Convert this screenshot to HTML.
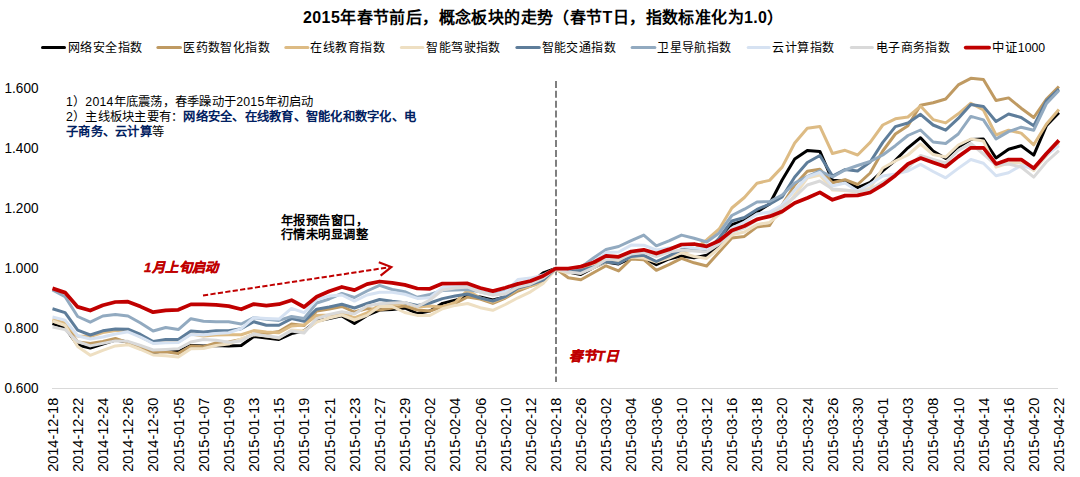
<!DOCTYPE html>
<html lang="zh-CN"><head><meta charset="utf-8">
<style>
html,body{margin:0;padding:0;background:#fff;}
body{width:1080px;height:477px;overflow:hidden;position:relative;font-family:"Liberation Sans", sans-serif;}
.t{position:absolute;white-space:nowrap;line-height:1;}
</style></head><body>
<svg width="1080" height="477" viewBox="0 0 1080 477" style="position:absolute;left:0;top:0" font-family='"Liberation Sans", sans-serif'>

<line x1="52" y1="388.5" x2="1058" y2="388.5" stroke="#D9D9D9" stroke-width="1"/>
<line x1="556" y1="81" x2="556" y2="382" stroke="#7F7F7F" stroke-width="2" stroke-dasharray="7,2.85"/>
<polyline fill="none" stroke="#000000" stroke-width="3" stroke-linejoin="round" stroke-linecap="butt" points="52.50,323.5 65.08,327.5 77.66,345.0 90.24,348.0 102.82,344.0 115.40,340.0 127.98,342.0 140.56,347.5 153.14,352.9 165.72,350.2 178.30,351.5 190.88,345.4 203.46,346.0 216.04,345.5 228.62,346.0 241.20,345.5 253.78,336.5 266.36,338.0 278.94,339.5 291.52,333.6 304.10,331.0 316.68,321.0 329.26,318.6 341.84,315.9 354.42,323.5 367.00,315.4 379.58,310.0 392.16,309.5 404.74,307.9 417.32,313.5 429.90,311.0 442.48,303.4 455.06,300.3 467.64,295.9 480.22,297.0 492.80,300.0 505.38,297.0 517.96,290.0 530.54,283.0 543.12,273.0 555.70,268.5 568.28,272.0 580.86,274.5 593.44,267.7 606.02,262.0 618.60,264.0 631.18,258.0 643.76,258.0 656.34,264.7 668.92,259.0 681.50,255.9 694.08,257.8 706.66,255.3 719.24,245.0 731.82,224.6 744.40,220.5 756.98,212.0 769.56,204.0 782.14,180.0 794.72,159.0 807.30,150.5 819.88,151.4 832.46,180.3 845.04,181.3 857.62,187.6 870.20,182.4 882.78,170.8 895.36,160.3 907.94,147.8 920.52,137.7 933.10,151.0 945.68,158.5 958.26,147.0 970.84,139.5 983.42,139.0 996.00,158.0 1008.58,149.2 1021.16,145.7 1033.74,155.1 1046.32,125.8 1058.90,112.6"/>
<polyline fill="none" stroke="#BF9A62" stroke-width="3" stroke-linejoin="round" stroke-linecap="butt" points="52.50,321.0 65.08,325.0 77.66,342.0 90.24,343.4 102.82,341.5 115.40,338.4 127.98,342.7 140.56,348.1 153.14,352.3 165.72,351.7 178.30,353.4 190.88,346.1 203.46,346.8 216.04,343.0 228.62,342.0 241.20,339.5 253.78,334.0 266.36,333.5 278.94,331.5 291.52,324.0 304.10,325.4 316.68,311.0 329.26,309.0 341.84,306.5 354.42,312.0 367.00,308.5 379.58,310.0 392.16,308.0 404.74,306.0 417.32,310.0 429.90,311.0 442.48,306.5 455.06,303.5 467.64,297.0 480.22,299.0 492.80,303.4 505.38,298.0 517.96,291.0 530.54,286.0 543.12,281.0 555.70,268.5 568.28,277.8 580.86,279.7 593.44,272.8 606.02,265.8 618.60,270.9 631.18,259.0 643.76,259.7 656.34,270.3 668.92,264.7 681.50,258.4 694.08,262.8 706.66,266.0 719.24,252.0 731.82,237.9 744.40,236.4 756.98,226.9 769.56,225.4 782.14,205.0 794.72,185.0 807.30,171.3 819.88,169.2 832.46,182.8 845.04,179.7 857.62,184.5 870.20,173.0 882.78,151.0 895.36,134.0 907.94,125.7 920.52,105.3 933.10,102.8 945.68,99.0 958.26,84.9 970.84,78.3 983.42,79.6 996.00,100.5 1008.58,97.9 1021.16,108.2 1033.74,117.5 1046.32,99.4 1058.90,86.5"/>
<polyline fill="none" stroke="#DDBB84" stroke-width="3" stroke-linejoin="round" stroke-linecap="butt" points="52.50,319.5 65.08,323.3 77.66,336.0 90.24,336.5 102.82,332.5 115.40,330.5 127.98,330.2 140.56,337.0 153.14,343.0 165.72,342.0 178.30,342.0 190.88,334.0 203.46,336.0 216.04,335.0 228.62,334.7 241.20,334.7 253.78,330.6 266.36,332.0 278.94,332.7 291.52,326.0 304.10,325.0 316.68,315.5 329.26,315.0 341.84,313.0 354.42,318.0 367.00,313.0 379.58,305.0 392.16,305.0 404.74,303.0 417.32,307.0 429.90,306.0 442.48,307.0 455.06,302.5 467.64,290.4 480.22,298.0 492.80,302.0 505.38,297.0 517.96,289.0 530.54,286.3 543.12,282.2 555.70,268.5 568.28,271.0 580.86,270.0 593.44,263.0 606.02,260.8 618.60,262.7 631.18,256.0 643.76,256.0 656.34,262.0 668.92,257.0 681.50,252.0 694.08,250.0 706.66,240.0 719.24,229.0 731.82,208.0 744.40,197.5 756.98,183.2 769.56,180.4 782.14,167.1 794.72,143.0 807.30,128.3 819.88,126.4 832.46,153.5 845.04,150.3 857.62,155.0 870.20,142.4 882.78,125.0 895.36,118.8 907.94,117.0 920.52,106.1 933.10,119.6 945.68,122.9 958.26,113.8 970.84,103.2 983.42,110.0 996.00,135.0 1008.58,130.2 1021.16,133.1 1033.74,144.8 1046.32,124.3 1058.90,109.6"/>
<polyline fill="none" stroke="#EEDFC2" stroke-width="3" stroke-linejoin="round" stroke-linecap="butt" points="52.50,321.0 65.08,325.5 77.66,346.5 90.24,355.3 102.82,350.3 115.40,345.9 127.98,344.7 140.56,349.5 153.14,355.0 165.72,355.7 178.30,357.0 190.88,348.8 203.46,348.5 216.04,345.5 228.62,344.0 241.20,338.8 253.78,334.7 266.36,336.0 278.94,338.0 291.52,330.0 304.10,331.0 316.68,322.0 329.26,318.0 341.84,315.0 354.42,320.0 367.00,315.4 379.58,306.5 392.16,306.5 404.74,312.5 417.32,315.4 429.90,315.5 442.48,308.8 455.06,305.4 467.64,303.5 480.22,307.7 492.80,310.3 505.38,304.5 517.96,297.8 530.54,291.8 543.12,283.5 555.70,269.5 568.28,273.0 580.86,272.0 593.44,268.0 606.02,262.0 618.60,262.0 631.18,257.0 643.76,258.0 656.34,262.0 668.92,258.0 681.50,252.7 694.08,256.5 706.66,258.4 719.24,248.0 731.82,234.9 744.40,232.0 756.98,224.6 769.56,222.4 782.14,212.0 794.72,195.0 807.30,178.0 819.88,175.0 832.46,190.0 845.04,190.5 857.62,192.0 870.20,188.0 882.78,168.0 895.36,161.0 907.94,155.0 920.52,144.0 933.10,154.5 945.68,157.0 958.26,145.0 970.84,139.0 983.42,141.0 996.00,167.0 1008.58,163.0 1021.16,162.5 1033.74,170.5 1046.32,156.0 1058.90,143.0"/>
<polyline fill="none" stroke="#5E7D9A" stroke-width="3" stroke-linejoin="round" stroke-linecap="butt" points="52.50,308.8 65.08,312.6 77.66,330.2 90.24,335.0 102.82,330.8 115.40,328.9 127.98,329.2 140.56,334.5 153.14,341.5 165.72,339.6 178.30,339.6 190.88,331.1 203.46,332.0 216.04,330.8 228.62,330.8 241.20,328.8 253.78,321.8 266.36,325.2 278.94,325.3 291.52,318.6 304.10,321.3 316.68,309.2 329.26,307.0 341.84,304.3 354.42,308.0 367.00,303.5 379.58,299.5 392.16,301.3 404.74,302.8 417.32,305.5 429.90,303.0 442.48,298.6 455.06,296.0 467.64,294.0 480.22,298.0 492.80,301.0 505.38,296.5 517.96,288.0 530.54,284.5 543.12,280.2 555.70,268.5 568.28,270.0 580.86,270.5 593.44,267.0 606.02,261.5 618.60,263.5 631.18,256.4 643.76,255.3 656.34,261.5 668.92,255.9 681.50,249.6 694.08,250.0 706.66,251.0 719.24,238.0 731.82,221.0 744.40,217.5 756.98,209.4 769.56,204.1 782.14,197.0 794.72,177.0 807.30,162.5 819.88,155.5 832.46,176.0 845.04,169.5 857.62,171.0 870.20,162.0 882.78,142.4 895.36,126.6 907.94,123.0 920.52,114.3 933.10,125.0 945.68,130.2 958.26,118.4 970.84,104.6 983.42,106.4 996.00,121.5 1008.58,114.0 1021.16,117.5 1033.74,125.8 1046.32,100.8 1058.90,89.1"/>
<polyline fill="none" stroke="#92AAC0" stroke-width="3" stroke-linejoin="round" stroke-linecap="butt" points="52.50,290.0 65.08,296.8 77.66,316.5 90.24,322.2 102.82,316.0 115.40,314.6 127.98,316.0 140.56,323.0 153.14,331.0 165.72,327.5 178.30,329.6 190.88,318.7 203.46,321.3 216.04,321.8 228.62,321.8 241.20,324.0 253.78,317.7 266.36,319.3 278.94,320.4 291.52,316.5 304.10,318.5 316.68,303.0 329.26,299.0 341.84,293.4 354.42,297.5 367.00,291.0 379.58,285.4 392.16,289.5 404.74,291.7 417.32,297.3 429.90,294.5 442.48,290.5 455.06,290.0 467.64,289.5 480.22,291.8 492.80,294.5 505.38,291.1 517.96,285.0 530.54,281.5 543.12,276.5 555.70,268.5 568.28,269.0 580.86,267.5 593.44,258.0 606.02,249.5 618.60,246.5 631.18,240.7 643.76,235.1 656.34,245.8 668.92,240.8 681.50,235.1 694.08,238.3 706.66,242.0 719.24,233.0 731.82,215.5 744.40,209.2 756.98,202.0 769.56,201.5 782.14,195.0 794.72,183.0 807.30,176.5 819.88,170.8 832.46,177.0 845.04,170.0 857.62,165.5 870.20,161.5 882.78,155.0 895.36,145.7 907.94,135.5 920.52,130.0 933.10,142.0 945.68,143.5 958.26,134.0 970.84,116.4 983.42,119.9 996.00,139.0 1008.58,131.6 1021.16,127.2 1033.74,130.2 1046.32,103.8 1058.90,90.5"/>
<polyline fill="none" stroke="#D6E2F2" stroke-width="3" stroke-linejoin="round" stroke-linecap="butt" points="52.50,317.0 65.08,320.1 77.66,335.8 90.24,339.0 102.82,337.0 115.40,334.0 127.98,331.8 140.56,337.2 153.14,343.4 165.72,342.7 178.30,342.4 190.88,334.5 203.46,335.0 216.04,333.4 228.62,332.7 241.20,328.6 253.78,317.7 266.36,318.4 278.94,319.1 291.52,308.4 304.10,312.7 316.68,299.5 329.26,296.1 341.84,295.0 354.42,301.1 367.00,295.0 379.58,292.2 392.16,292.2 404.74,294.3 417.32,298.4 429.90,297.7 442.48,287.5 455.06,286.5 467.64,286.0 480.22,292.0 492.80,295.0 505.38,292.0 517.96,279.5 530.54,278.1 543.12,275.0 555.70,268.5 568.28,268.5 580.86,267.0 593.44,262.0 606.02,252.6 618.60,252.0 631.18,245.1 643.76,245.2 656.34,250.0 668.92,248.0 681.50,246.0 694.08,248.0 706.66,249.0 719.24,242.0 731.82,228.0 744.40,222.0 756.98,214.0 769.56,212.0 782.14,205.0 794.72,190.0 807.30,177.0 819.88,172.4 832.46,186.0 845.04,183.0 857.62,191.0 870.20,184.0 882.78,176.0 895.36,174.0 907.94,171.0 920.52,164.4 933.10,171.5 945.68,177.8 958.26,168.4 970.84,159.5 983.42,163.3 996.00,175.7 1008.58,172.7 1021.16,165.4 1033.74,169.0 1046.32,155.0 1058.90,145.5"/>
<polyline fill="none" stroke="#D9D9D9" stroke-width="3" stroke-linejoin="round" stroke-linecap="butt" points="52.50,327.0 65.08,329.6 77.66,341.5 90.24,345.9 102.82,343.4 115.40,340.9 127.98,341.3 140.56,345.5 153.14,350.0 165.72,349.4 178.30,348.8 190.88,342.0 203.46,339.5 216.04,340.2 228.62,342.2 241.20,340.9 253.78,334.0 266.36,336.1 278.94,337.5 291.52,330.9 304.10,332.9 316.68,318.6 329.26,314.5 341.84,311.8 354.42,314.0 367.00,305.9 379.58,303.8 392.16,303.1 404.74,302.5 417.32,306.6 429.90,300.0 442.48,290.0 455.06,288.0 467.64,287.0 480.22,292.0 492.80,295.0 505.38,294.0 517.96,287.0 530.54,284.0 543.12,278.0 555.70,268.5 568.28,272.1 580.86,273.4 593.44,267.7 606.02,259.6 618.60,259.0 631.18,254.0 643.76,252.5 656.34,256.5 668.92,252.0 681.50,250.0 694.08,251.0 706.66,252.0 719.24,244.0 731.82,232.0 744.40,228.0 756.98,220.0 769.56,215.0 782.14,207.0 794.72,197.0 807.30,185.0 819.88,181.0 832.46,189.0 845.04,190.0 857.62,191.5 870.20,189.5 882.78,182.0 895.36,175.0 907.94,168.0 920.52,155.5 933.10,159.5 945.68,163.0 958.26,150.5 970.84,143.5 983.42,154.0 996.00,165.0 1008.58,164.0 1021.16,167.0 1033.74,177.1 1046.32,162.0 1058.90,150.7"/>
<polyline fill="none" stroke="#C00000" stroke-width="3.75" stroke-linejoin="round" stroke-linecap="butt" points="52.50,288.4 65.08,292.6 77.66,306.9 90.24,310.5 102.82,305.3 115.40,302.0 127.98,301.7 140.56,306.6 153.14,312.2 165.72,310.3 178.30,309.8 190.88,304.4 203.46,304.3 216.04,304.8 228.62,306.1 241.20,309.3 253.78,304.1 266.36,305.7 278.94,304.2 291.52,300.2 304.10,307.0 316.68,296.8 329.26,291.2 341.84,287.0 354.42,290.1 367.00,284.1 379.58,281.5 392.16,282.8 404.74,284.9 417.32,288.5 429.90,288.8 442.48,283.6 455.06,283.5 467.64,283.4 480.22,288.0 492.80,291.1 505.38,287.7 517.96,283.9 530.54,281.0 543.12,276.0 555.70,268.5 568.28,268.5 580.86,266.6 593.44,262.5 606.02,255.8 618.60,256.8 631.18,251.5 643.76,249.8 656.34,253.5 668.92,249.4 681.50,244.5 694.08,244.0 706.66,246.4 719.24,240.8 731.82,230.5 744.40,226.0 756.98,219.3 769.56,216.4 782.14,211.5 794.72,203.0 807.30,198.0 819.88,192.4 832.46,199.8 845.04,195.6 857.62,195.3 870.20,192.5 882.78,184.9 895.36,175.4 907.94,164.0 920.52,158.1 933.10,162.5 945.68,166.7 958.26,156.6 970.84,147.8 983.42,147.8 996.00,163.9 1008.58,159.5 1021.16,159.5 1033.74,168.3 1046.32,153.7 1058.90,140.4"/>
<text x="38.5" y="93.4" font-size="14.6" text-anchor="end" fill="#000" textLength="34" lengthAdjust="spacingAndGlyphs">1.600</text>
<text x="38.5" y="153.4" font-size="14.6" text-anchor="end" fill="#000" textLength="34" lengthAdjust="spacingAndGlyphs">1.400</text>
<text x="38.5" y="213.4" font-size="14.6" text-anchor="end" fill="#000" textLength="34" lengthAdjust="spacingAndGlyphs">1.200</text>
<text x="38.5" y="273.4" font-size="14.6" text-anchor="end" fill="#000" textLength="34" lengthAdjust="spacingAndGlyphs">1.000</text>
<text x="38.5" y="333.4" font-size="14.6" text-anchor="end" fill="#000" textLength="34" lengthAdjust="spacingAndGlyphs">0.800</text>
<text x="38.5" y="393.4" font-size="14.6" text-anchor="end" fill="#000" textLength="34" lengthAdjust="spacingAndGlyphs">0.600</text>
<text transform="translate(57.80,397.8) rotate(-90)" font-size="14.8" text-anchor="end" fill="#000" textLength="74" lengthAdjust="spacingAndGlyphs">2014-12-18</text>
<text transform="translate(82.96,397.8) rotate(-90)" font-size="14.8" text-anchor="end" fill="#000" textLength="74" lengthAdjust="spacingAndGlyphs">2014-12-22</text>
<text transform="translate(108.12,397.8) rotate(-90)" font-size="14.8" text-anchor="end" fill="#000" textLength="74" lengthAdjust="spacingAndGlyphs">2014-12-24</text>
<text transform="translate(133.28,397.8) rotate(-90)" font-size="14.8" text-anchor="end" fill="#000" textLength="74" lengthAdjust="spacingAndGlyphs">2014-12-26</text>
<text transform="translate(158.44,397.8) rotate(-90)" font-size="14.8" text-anchor="end" fill="#000" textLength="74" lengthAdjust="spacingAndGlyphs">2014-12-30</text>
<text transform="translate(183.60,397.8) rotate(-90)" font-size="14.8" text-anchor="end" fill="#000" textLength="74" lengthAdjust="spacingAndGlyphs">2015-01-05</text>
<text transform="translate(208.76,397.8) rotate(-90)" font-size="14.8" text-anchor="end" fill="#000" textLength="74" lengthAdjust="spacingAndGlyphs">2015-01-07</text>
<text transform="translate(233.92,397.8) rotate(-90)" font-size="14.8" text-anchor="end" fill="#000" textLength="74" lengthAdjust="spacingAndGlyphs">2015-01-09</text>
<text transform="translate(259.08,397.8) rotate(-90)" font-size="14.8" text-anchor="end" fill="#000" textLength="74" lengthAdjust="spacingAndGlyphs">2015-01-13</text>
<text transform="translate(284.24,397.8) rotate(-90)" font-size="14.8" text-anchor="end" fill="#000" textLength="74" lengthAdjust="spacingAndGlyphs">2015-01-15</text>
<text transform="translate(309.40,397.8) rotate(-90)" font-size="14.8" text-anchor="end" fill="#000" textLength="74" lengthAdjust="spacingAndGlyphs">2015-01-19</text>
<text transform="translate(334.56,397.8) rotate(-90)" font-size="14.8" text-anchor="end" fill="#000" textLength="74" lengthAdjust="spacingAndGlyphs">2015-01-21</text>
<text transform="translate(359.72,397.8) rotate(-90)" font-size="14.8" text-anchor="end" fill="#000" textLength="74" lengthAdjust="spacingAndGlyphs">2015-01-23</text>
<text transform="translate(384.88,397.8) rotate(-90)" font-size="14.8" text-anchor="end" fill="#000" textLength="74" lengthAdjust="spacingAndGlyphs">2015-01-27</text>
<text transform="translate(410.04,397.8) rotate(-90)" font-size="14.8" text-anchor="end" fill="#000" textLength="74" lengthAdjust="spacingAndGlyphs">2015-01-29</text>
<text transform="translate(435.20,397.8) rotate(-90)" font-size="14.8" text-anchor="end" fill="#000" textLength="74" lengthAdjust="spacingAndGlyphs">2015-02-02</text>
<text transform="translate(460.36,397.8) rotate(-90)" font-size="14.8" text-anchor="end" fill="#000" textLength="74" lengthAdjust="spacingAndGlyphs">2015-02-04</text>
<text transform="translate(485.52,397.8) rotate(-90)" font-size="14.8" text-anchor="end" fill="#000" textLength="74" lengthAdjust="spacingAndGlyphs">2015-02-06</text>
<text transform="translate(510.68,397.8) rotate(-90)" font-size="14.8" text-anchor="end" fill="#000" textLength="74" lengthAdjust="spacingAndGlyphs">2015-02-10</text>
<text transform="translate(535.84,397.8) rotate(-90)" font-size="14.8" text-anchor="end" fill="#000" textLength="74" lengthAdjust="spacingAndGlyphs">2015-02-12</text>
<text transform="translate(561.00,397.8) rotate(-90)" font-size="14.8" text-anchor="end" fill="#000" textLength="74" lengthAdjust="spacingAndGlyphs">2015-02-18</text>
<text transform="translate(586.16,397.8) rotate(-90)" font-size="14.8" text-anchor="end" fill="#000" textLength="74" lengthAdjust="spacingAndGlyphs">2015-02-26</text>
<text transform="translate(611.32,397.8) rotate(-90)" font-size="14.8" text-anchor="end" fill="#000" textLength="74" lengthAdjust="spacingAndGlyphs">2015-03-02</text>
<text transform="translate(636.48,397.8) rotate(-90)" font-size="14.8" text-anchor="end" fill="#000" textLength="74" lengthAdjust="spacingAndGlyphs">2015-03-04</text>
<text transform="translate(661.64,397.8) rotate(-90)" font-size="14.8" text-anchor="end" fill="#000" textLength="74" lengthAdjust="spacingAndGlyphs">2015-03-06</text>
<text transform="translate(686.80,397.8) rotate(-90)" font-size="14.8" text-anchor="end" fill="#000" textLength="74" lengthAdjust="spacingAndGlyphs">2015-03-10</text>
<text transform="translate(711.96,397.8) rotate(-90)" font-size="14.8" text-anchor="end" fill="#000" textLength="74" lengthAdjust="spacingAndGlyphs">2015-03-12</text>
<text transform="translate(737.12,397.8) rotate(-90)" font-size="14.8" text-anchor="end" fill="#000" textLength="74" lengthAdjust="spacingAndGlyphs">2015-03-16</text>
<text transform="translate(762.28,397.8) rotate(-90)" font-size="14.8" text-anchor="end" fill="#000" textLength="74" lengthAdjust="spacingAndGlyphs">2015-03-18</text>
<text transform="translate(787.44,397.8) rotate(-90)" font-size="14.8" text-anchor="end" fill="#000" textLength="74" lengthAdjust="spacingAndGlyphs">2015-03-20</text>
<text transform="translate(812.60,397.8) rotate(-90)" font-size="14.8" text-anchor="end" fill="#000" textLength="74" lengthAdjust="spacingAndGlyphs">2015-03-24</text>
<text transform="translate(837.76,397.8) rotate(-90)" font-size="14.8" text-anchor="end" fill="#000" textLength="74" lengthAdjust="spacingAndGlyphs">2015-03-26</text>
<text transform="translate(862.92,397.8) rotate(-90)" font-size="14.8" text-anchor="end" fill="#000" textLength="74" lengthAdjust="spacingAndGlyphs">2015-03-30</text>
<text transform="translate(888.08,397.8) rotate(-90)" font-size="14.8" text-anchor="end" fill="#000" textLength="74" lengthAdjust="spacingAndGlyphs">2015-04-01</text>
<text transform="translate(913.24,397.8) rotate(-90)" font-size="14.8" text-anchor="end" fill="#000" textLength="74" lengthAdjust="spacingAndGlyphs">2015-04-03</text>
<text transform="translate(938.40,397.8) rotate(-90)" font-size="14.8" text-anchor="end" fill="#000" textLength="74" lengthAdjust="spacingAndGlyphs">2015-04-08</text>
<text transform="translate(963.56,397.8) rotate(-90)" font-size="14.8" text-anchor="end" fill="#000" textLength="74" lengthAdjust="spacingAndGlyphs">2015-04-10</text>
<text transform="translate(988.72,397.8) rotate(-90)" font-size="14.8" text-anchor="end" fill="#000" textLength="74" lengthAdjust="spacingAndGlyphs">2015-04-14</text>
<text transform="translate(1013.88,397.8) rotate(-90)" font-size="14.8" text-anchor="end" fill="#000" textLength="74" lengthAdjust="spacingAndGlyphs">2015-04-16</text>
<text transform="translate(1039.04,397.8) rotate(-90)" font-size="14.8" text-anchor="end" fill="#000" textLength="74" lengthAdjust="spacingAndGlyphs">2015-04-20</text>
<text transform="translate(1064.20,397.8) rotate(-90)" font-size="14.8" text-anchor="end" fill="#000" textLength="74" lengthAdjust="spacingAndGlyphs">2015-04-22</text>
<line x1="42.5" y1="47.6" x2="64.5" y2="47.6" stroke="#000000" stroke-width="3" stroke-linecap="round"/>
<text x="67.6" y="52" font-size="12.5" fill="#000" textLength="75" lengthAdjust="spacingAndGlyphs">网络安全指数</text>
<line x1="157.9" y1="47.6" x2="180.5" y2="47.6" stroke="#BF9A62" stroke-width="3" stroke-linecap="round"/>
<text x="183.2" y="52" font-size="12.5" fill="#000" textLength="87" lengthAdjust="spacingAndGlyphs">医药数智化指数</text>
<line x1="285.8" y1="47.6" x2="307.9" y2="47.6" stroke="#DDBB84" stroke-width="3" stroke-linecap="round"/>
<text x="310.4" y="52" font-size="12.5" fill="#000" textLength="75" lengthAdjust="spacingAndGlyphs">在线教育指数</text>
<line x1="401.4" y1="47.6" x2="422.9" y2="47.6" stroke="#EEDFC2" stroke-width="3" stroke-linecap="round"/>
<text x="426.4" y="52" font-size="12.5" fill="#000" textLength="74.5" lengthAdjust="spacingAndGlyphs">智能驾驶指数</text>
<line x1="516.9" y1="47.6" x2="539.3" y2="47.6" stroke="#5E7D9A" stroke-width="3" stroke-linecap="round"/>
<text x="541.6" y="52" font-size="12.5" fill="#000" textLength="74.5" lengthAdjust="spacingAndGlyphs">智能交通指数</text>
<line x1="632.1" y1="47.6" x2="654.9" y2="47.6" stroke="#92AAC0" stroke-width="3" stroke-linecap="round"/>
<text x="657.2" y="52" font-size="12.5" fill="#000" textLength="74.4" lengthAdjust="spacingAndGlyphs">卫星导航指数</text>
<line x1="748.2" y1="47.6" x2="769.2" y2="47.6" stroke="#D6E2F2" stroke-width="3" stroke-linecap="round"/>
<text x="772.3" y="52" font-size="12.5" fill="#000" textLength="62.5" lengthAdjust="spacingAndGlyphs">云计算指数</text>
<line x1="851.3" y1="47.6" x2="872.4" y2="47.6" stroke="#D9D9D9" stroke-width="3" stroke-linecap="round"/>
<text x="875.9" y="52" font-size="12.5" fill="#000" textLength="74.4" lengthAdjust="spacingAndGlyphs">电子商务指数</text>
<line x1="965.7" y1="47.6" x2="989.1" y2="47.6" stroke="#C00000" stroke-width="3.75" stroke-linecap="round"/>
<text x="992.2" y="52" font-size="12.5" fill="#000" textLength="53" lengthAdjust="spacingAndGlyphs">中证1000</text>
<line x1="203" y1="295.5" x2="389" y2="267.3" stroke="#C00000" stroke-width="2" stroke-dasharray="5.2,2.3"/>
<polyline fill="none" stroke="#C00000" stroke-width="2.2" points="378.8,262.3 391.3,267 380.6,275.6"/>
</svg>
<div class="t" style="left:303px;top:10px;font-size:16px;font-weight:900;letter-spacing:0.4px;color:#000">2015年春节前后，概念板块的走势（春节T日，指数标准化为1.0）</div>
<div class="t" style="left:66px;top:95px;font-size:12.3px;letter-spacing:0.25px;line-height:15px;color:#000">1）2014年底震荡，春季躁动于2015年初启动<br>2）主线板块主要有：<b style="color:#002060;font-weight:900">网络安全、在线教育、智能化和数字化、电</b><br><b style="color:#002060;font-weight:900">子商务、云计算</b>等</div>
<div class="t" style="left:281px;top:213.5px;font-size:12.3px;letter-spacing:0.45px;line-height:14.8px;font-weight:900;color:#000">年报预告窗口，<br>行情未明显调整</div>
<div class="t" style="left:144px;top:261px;font-size:13.2px;letter-spacing:0.4px;font-weight:900;font-style:italic;color:#C00000;-webkit-text-stroke:0.35px #C00000">1月上旬启动</div>
<div class="t" style="left:568.5px;top:350px;font-size:13.8px;font-weight:900;font-style:italic;color:#C00000;-webkit-text-stroke:0.35px #C00000">春节T日</div>
</body></html>
